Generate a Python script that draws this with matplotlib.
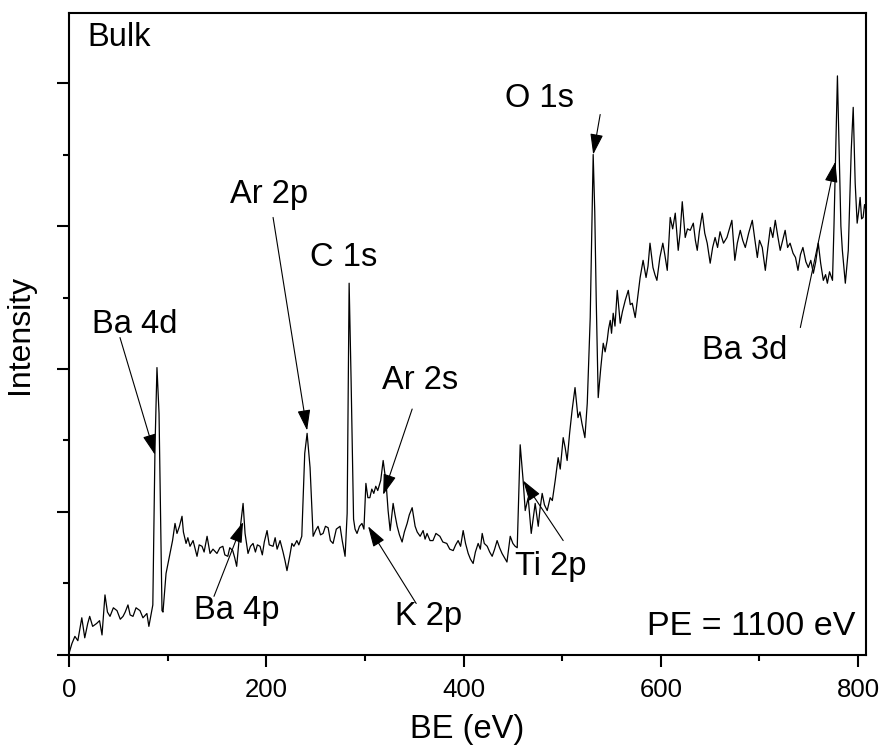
import matplotlib
matplotlib.use('Agg')
import matplotlib.pyplot as plt
from matplotlib.ticker import MultipleLocator

plt.rcParams['font.family'] = ['Liberation Sans', 'DejaVu Sans']

# survey spectrum (BE in eV, intensity in arb. units)
be = [0, 3, 6, 9, 13, 16, 19, 21, 24, 28, 31, 33.5, 36.5, 39, 41.6, 45, 48.7, 52,
      54.8, 57, 59.8, 62, 64.9, 68, 72, 75, 79, 81, 85, 87.2, 89.2, 91.3, 94.3, 95.3,
      98.4, 102.4, 105, 107.5, 109.5, 112, 114.6, 116, 118.7, 120.5, 122.7, 125.8,
      128, 129.8, 132, 134.9, 137, 140, 143, 146, 150, 153, 156, 158, 161, 163, 166,
      168, 170, 173, 176.5, 178.5, 181.5, 184, 186.6, 189, 191, 193.7, 196, 198,
      200.8, 203, 206.9, 209, 211, 214, 217, 219, 221, 224, 226, 228, 231, 233, 236,
      239, 241.4, 244.4, 247.5, 250, 252.5, 255, 257.6, 260, 262.7, 265, 267.7, 271,
      274.8, 277, 279.9, 282, 284, 286, 288.5, 290, 292, 294.5, 297, 299, 301, 303,
      305, 307, 309, 311, 313, 316, 318.5, 321.5, 323.5, 325.6, 328.6, 330.5, 332.7,
      335, 337.7, 340, 342.8, 345, 347.9, 350.9, 353, 356, 359, 361, 363, 366, 369,
      372, 376, 379, 383, 386, 389.5, 392, 394.5, 397, 399.6, 402, 404.7, 407, 409.7,
      412, 414.8, 417, 418.9, 421, 424, 426.5, 429, 431.5, 434, 436.5, 439, 441.5,
      444, 447.3, 450, 452.3, 454.4, 457.4, 460.4, 462.5, 465.5, 468.6, 470.5, 472.6,
      475.7, 477.5, 479.7, 482, 484.8, 487.8, 490, 492.9, 495.9, 498, 501, 503, 505,
      507.5, 510, 513, 516, 518, 520, 523, 525.4, 528.4, 531.4, 533, 534.5, 536.5,
      539, 541.6, 543.5, 545.6, 547, 548.7, 550, 551.7, 553.5, 555.8, 558.8, 561,
      563.9, 567, 569, 571, 574, 576.5, 579, 582, 585, 587, 589, 592, 594, 596, 599,
      602, 604, 606.5, 609.5, 612, 614.6, 617.6, 619.5, 621.7, 624.7, 627, 629.8,
      632.9, 635, 636.9, 639, 642, 644.5, 647, 650, 652.5, 655, 657.5, 660, 663.5,
      667, 669.5, 672, 675, 677.5, 680.5, 683, 685.6, 689, 692.7, 695, 697.8, 700,
      702.8, 705.9, 708.5, 711, 713.5, 716, 718.5, 721, 723.5, 726, 728.5, 731, 734,
      736.5, 739, 741.5, 744, 747, 749.5, 752, 754.6, 757, 759.6, 762, 764.7, 767,
      768.8, 771, 774, 775.5, 777, 779, 781, 782.5, 784, 787, 790, 793, 795, 797,
      799, 800.5, 802, 803.5, 805, 806.5, 808]
intensity = [0.01, 0.08, 0.13, 0.10, 0.26, 0.12, 0.22, 0.27, 0.20, 0.22, 0.24, 0.14,
             0.42, 0.30, 0.27, 0.33, 0.31, 0.25, 0.27, 0.30, 0.35, 0.28, 0.27, 0.33,
             0.31, 0.26, 0.29, 0.20, 0.35, 1.45, 2.01, 1.69, 0.31, 0.30, 0.57, 0.71,
             0.80, 0.92, 0.85, 0.90, 0.97, 0.86, 0.78, 0.82, 0.76, 0.80, 0.74, 0.69,
             0.77, 0.76, 0.72, 0.83, 0.71, 0.74, 0.71, 0.75, 0.76, 0.70, 0.69, 0.75,
             0.73, 0.68, 0.62, 0.85, 1.06, 0.85, 0.71, 0.76, 0.78, 0.72, 0.77, 0.76,
             0.70, 0.79, 0.87, 0.77, 0.76, 0.82, 0.74, 0.80, 0.72, 0.66, 0.59, 0.70,
             0.78, 0.76, 0.80, 0.77, 0.83, 1.41, 1.55, 1.31, 0.83, 0.87, 0.90, 0.84,
             0.85, 0.90, 0.89, 0.80, 0.78, 0.88, 0.90, 0.80, 0.69, 0.99, 2.60, 1.92,
             0.95, 0.88, 0.85, 0.90, 0.92, 0.88, 1.20, 1.10, 1.10, 1.16, 1.13, 1.18,
             1.15, 1.22, 1.36, 1.20, 1.01, 0.87, 1.06, 0.98, 0.90, 0.84, 0.79, 0.86,
             0.92, 0.98, 1.03, 0.90, 0.86, 0.83, 0.87, 0.81, 0.85, 0.80, 0.80, 0.85,
             0.83, 0.79, 0.78, 0.74, 0.73, 0.77, 0.80, 0.76, 0.87, 0.78, 0.71, 0.67,
             0.64, 0.72, 0.78, 0.74, 0.85, 0.78, 0.76, 0.72, 0.69, 0.74, 0.80, 0.75,
             0.71, 0.68, 0.65, 0.83, 0.78, 0.76, 0.75, 1.47, 1.22, 1.01, 1.10, 0.85,
             0.95, 1.06, 0.90, 1.02, 1.13, 1.05, 1.01, 1.10, 1.08, 1.22, 1.38, 1.30,
             1.52, 1.45, 1.36, 1.55, 1.71, 1.87, 1.66, 1.70, 1.62, 1.52, 1.76, 2.36,
             3.50, 3.10, 2.48, 1.80, 2.00, 2.18, 2.12, 2.20, 2.28, 2.34, 2.25, 2.39,
             2.30, 2.55, 2.32, 2.40, 2.48, 2.55, 2.45, 2.46, 2.36, 2.50, 2.64, 2.76,
             2.64, 2.72, 2.88, 2.71, 2.66, 2.62, 2.78, 2.88, 2.80, 2.69, 3.06, 2.98,
             3.09, 2.83, 2.95, 3.17, 2.92, 2.98, 2.97, 3.02, 2.90, 2.83, 2.96, 3.09,
             2.95, 2.88, 2.74, 2.85, 2.92, 2.85, 2.96, 2.88, 2.92, 2.98, 3.04, 2.76,
             2.88, 2.97, 2.90, 2.85, 2.95, 3.04, 2.92, 2.78, 2.90, 2.85, 2.69, 2.85,
             2.99, 2.92, 3.04, 2.93, 2.83, 2.90, 2.97, 2.85, 2.88, 2.81, 2.78, 2.69,
             2.80, 2.85, 2.75, 2.71, 2.76, 2.67, 2.75, 2.88, 2.74, 2.62, 2.66, 2.60,
             2.68, 2.62, 3.00, 3.46, 4.05, 3.46, 3.00, 2.83, 2.60, 2.83, 3.53, 3.83,
             3.30, 3.02, 3.10, 3.20, 3.05, 3.06, 3.15, 3.11]

# peak labels: text, text position, arrow tail, arrow tip (None = no arrow)
labels = ['Ba 4d', 'Ba 4p', 'Ar 2p', 'C 1s', 'Ar 2s', 'K 2p', 'Ti 2p', 'O 1s', 'Ba 3d']
label_xy = [(66.9, 2.31), (170.4, 0.31), (202.8, 3.22), (278.9, 2.78), (356, 1.92),
            (365, 0.27), (488.8, 0.62), (476.7, 3.89), (684.6, 2.13)]
arrow_from = [(51.7, 2.22), (147, 0.41), (206.9, 3.06), None, (347.9, 1.72),
              (352, 0.36), (501, 0.80), (538.5, 3.78), (741.4, 2.29)]
arrow_to = [(87.2, 1.40), (176.5, 0.93), (241.4, 1.57), None, (318.5, 1.12),
            (303.2, 0.90), (460.4, 1.22), (531.4, 3.50), (776.9, 3.45)]

fig = plt.figure(figsize=(8.82, 7.55), dpi=100)
ax = fig.add_axes([0.0782, 0.1325, 0.9037, 0.8503])

ax.plot(be, intensity, color='k', lw=0.9)

for txt, pos, a, b in zip(labels, label_xy, arrow_from, arrow_to):
    ax.text(pos[0], pos[1], txt, fontsize=23.5, ha='center', va='center')
    if a is not None:
        ax.annotate('', xy=b, xytext=a,
                    arrowprops=dict(arrowstyle='-|>,head_length=0.8,head_width=0.25',
                                    color='k', lw=0.8, shrinkA=0, shrinkB=0,
                                    mutation_scale=16))

ax.text(18.3, 4.32, 'Bulk', fontsize=23.5, ha='left', va='center')
ax.text(797, 0.20, 'PE = 1100 eV', fontsize=24.5, ha='right', va='center')

ax.set_xlim(0, 808)
ax.set_ylim(0, 4.49)
ax.xaxis.set_major_locator(MultipleLocator(200))
ax.xaxis.set_minor_locator(MultipleLocator(100))
ax.yaxis.set_major_locator(MultipleLocator(1))
ax.yaxis.set_minor_locator(MultipleLocator(0.5))
ax.set_yticklabels([])
ax.tick_params(which='both', direction='out', width=1.5, labelsize=18.5, pad=8)
ax.tick_params(which='major', length=8.5)
ax.tick_params(which='minor', length=4)
for s in ax.spines.values():
    s.set_linewidth(1.5)

ax.set_xlabel('BE (eV)', fontsize=23.5, labelpad=9)
ax.set_ylabel('Intensity', fontsize=23, labelpad=8)

fig.savefig('out.png', dpi=100)
